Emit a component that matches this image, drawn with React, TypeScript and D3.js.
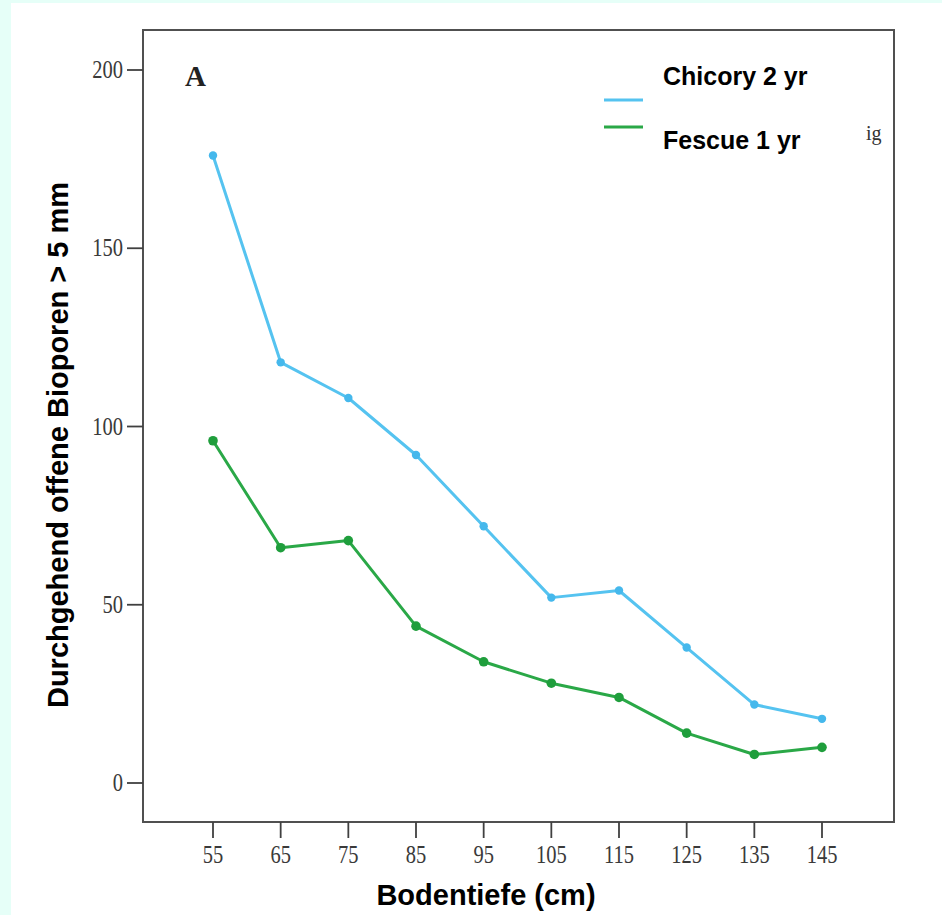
import React from "react";
import * as d3 from "d3";

// Soil depth classes (cm)
const depths = [55, 65, 75, 85, 95, 105, 115, 125, 135, 145];
// Continuously open biopores > 5 mm per depth
const chicory2yr = [176, 118, 108, 92, 72, 52, 54, 38, 22, 18];
const fescue1yr = [96, 66, 68, 44, 34, 28, 24, 14, 8, 10];
const yTicks = [0, 50, 100, 150, 200];

const seriesNames = ["Chicory 2 yr", "Fescue 1 yr"];
const seriesColors = ["#55c3f0", "#2aa847"];
const markerColors = ["#45b8ec", "#1f9e3c"];

const W = 942;
const H = 915;
const frame = { left: 143, top: 30, right: 894, bottom: 822 };

export default function App() {
  const x = d3.scaleLinear().domain([55, 145]).range([213, 822]);
  const y = d3.scaleLinear().domain([0, 200]).range([783, 70]);

  const line = d3
    .line<number>()
    .x((_, i) => x(depths[i]))
    .y((v) => y(v));

  const series = [chicory2yr, fescue1yr];
  const tickFont = "'Liberation Serif', 'DejaVu Serif', serif";
  const sansBold = "'Liberation Sans', Arial, sans-serif";

  return (
    <div style={{ position: "absolute", left: 0, top: 0 }}>
      <svg width={W} height={H} viewBox={`0 0 ${W} ${H}`} style={{ display: "block" }}>
        <rect x={0} y={0} width={W} height={H} fill="#e6fff8" />
        <rect x={11} y={3} width={W - 11} height={H - 3} fill="#ffffff" />

        {/* plot frame */}
        <rect
          x={frame.left}
          y={frame.top}
          width={frame.right - frame.left}
          height={frame.bottom - frame.top}
          fill="#ffffff"
          stroke="#505050"
          strokeWidth={2}
        />

        {/* y axis ticks and labels (narrow serif digits) */}
        {yTicks.map((t) => (
          <g key={`y${t}`}>
            <line x1={frame.left - 16} x2={frame.left} y1={y(t)} y2={y(t)} stroke="#404040" strokeWidth={1.8} />
            <text
              transform={`translate(${frame.left - 20}, ${y(t) + 8}) scale(0.82, 1)`}
              textAnchor="end"
              fontFamily={tickFont}
              fontSize={25}
              fill="#3a3a3a"
            >
              {t}
            </text>
          </g>
        ))}

        {/* x axis ticks and labels */}
        {depths.map((d) => (
          <g key={`x${d}`}>
            <line x1={x(d)} x2={x(d)} y1={frame.bottom} y2={frame.bottom + 16} stroke="#404040" strokeWidth={1.8} />
            <text
              transform={`translate(${x(d)}, ${frame.bottom + 41}) scale(0.82, 1)`}
              textAnchor="middle"
              fontFamily={tickFont}
              fontSize={25}
              fill="#3a3a3a"
            >
              {d}
            </text>
          </g>
        ))}

        {/* panel letter */}
        <text x={185} y={86} fontFamily={tickFont} fontWeight="bold" fontSize={29} fill="#222">
          A
        </text>

        {/* series lines and markers */}
        {series.map((vals, si) => (
          <g key={seriesNames[si]}>
            <path d={line(vals) ?? ""} fill="none" stroke={seriesColors[si]} strokeWidth={3} strokeLinejoin="round" />
            {vals.map((v, i) => (
              <circle key={i} cx={x(depths[i])} cy={y(v)} r={si === 0 ? 4.2 : 4.8} fill={markerColors[si]} />
            ))}
          </g>
        ))}

        {/* legend */}
        <line x1={604} x2={643} y1={100} y2={100} stroke={seriesColors[0]} strokeWidth={3} />
        <line x1={604} x2={643} y1={127} y2={127} stroke={seriesColors[1]} strokeWidth={3} />
        <text x={663} y={85} fontFamily={sansBold} fontWeight="bold" fontSize={25} fill="#000">
          {seriesNames[0]}
        </text>
        <text x={663} y={149} fontFamily={sansBold} fontWeight="bold" fontSize={25} fill="#000">
          {seriesNames[1]}
        </text>
        <text x={866} y={140} fontFamily={tickFont} fontSize={20} fill="#333">
          ig
        </text>

        {/* axis titles */}
        <text
          x={486}
          y={905}
          textAnchor="middle"
          fontFamily={sansBold}
          fontWeight="bold"
          fontSize={29}
          fill="#000"
        >
          Bodentiefe (cm)
        </text>
        <text
          transform={`translate(68, 445) rotate(-90)`}
          textAnchor="middle"
          fontFamily={sansBold}
          fontWeight="bold"
          fontSize={29}
          fill="#000"
        >
          Durchgehend offene Bioporen &gt; 5 mm
        </text>
      </svg>
    </div>
  );
}
